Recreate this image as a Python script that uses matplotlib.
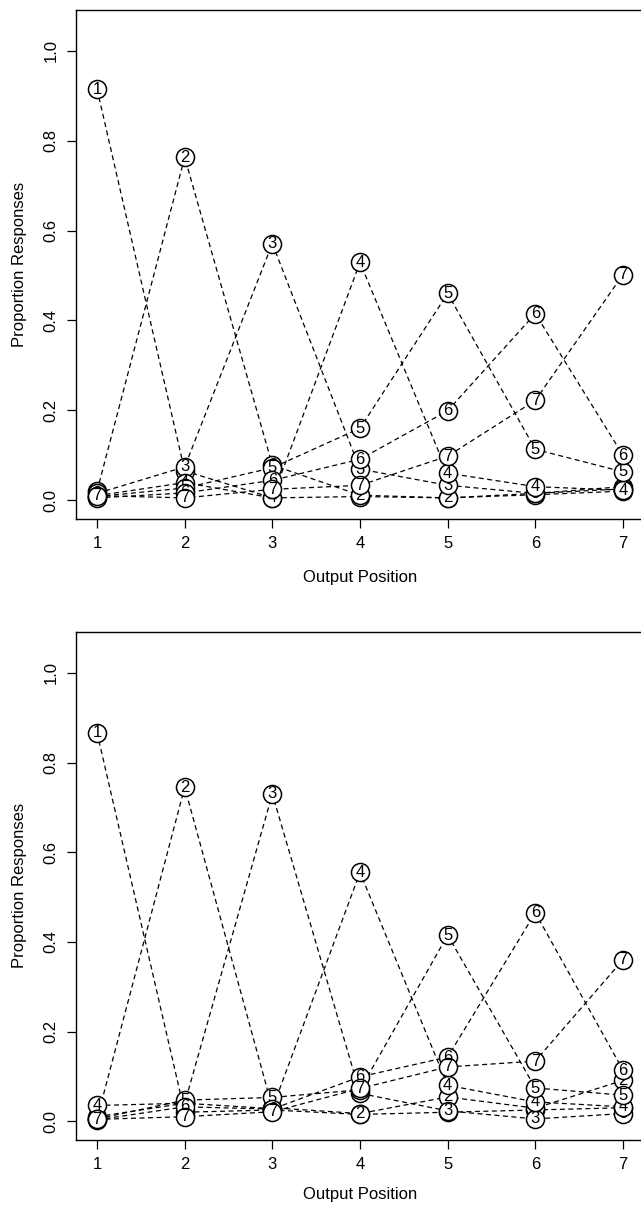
import numpy as np
import matplotlib
matplotlib.use('Agg')
import matplotlib.pyplot as plt

plt.rcParams['font.family'] = ['Liberation Sans', 'DejaVu Sans']

# output positions and serial positions
output_pos = [1, 2, 3, 4, 5, 6, 7]
serial_labels = ['1', '2', '3', '4', '5', '6', '7']

# top panel: proportion of responses for each serial position (rows) at each output position
top_s1 = [0.915, 0.065, 0.005, 0.008, 0.005, 0.012, 0.020]
top_s2 = [0.020, 0.763, 0.078, 0.011, 0.005, 0.015, 0.030]
top_s3 = [0.015, 0.074, 0.571, 0.069, 0.033, 0.015, 0.025]
top_s4 = [0.010, 0.039, 0.005, 0.529, 0.060, 0.030, 0.022]
top_s5 = [0.008, 0.027, 0.072, 0.160, 0.460, 0.113, 0.063]
top_s6 = [0.005, 0.016, 0.044, 0.091, 0.199, 0.415, 0.100]
top_s7 = [0.010, 0.005, 0.024, 0.033, 0.098, 0.222, 0.502]

# bottom panel
bot_s1 = [0.867, 0.020, 0.025, 0.015, 0.020, 0.025, 0.030]
bot_s2 = [0.005, 0.745, 0.030, 0.017, 0.054, 0.029, 0.091]
bot_s3 = [0.010, 0.040, 0.730, 0.062, 0.023, 0.005, 0.017]
bot_s4 = [0.035, 0.040, 0.028, 0.555, 0.080, 0.043, 0.032]
bot_s5 = [0.005, 0.047, 0.053, 0.070, 0.415, 0.074, 0.058]
bot_s6 = [0.003, 0.032, 0.027, 0.099, 0.143, 0.465, 0.114]
bot_s7 = [0.004, 0.010, 0.021, 0.073, 0.121, 0.134, 0.360]

top_series = [top_s1, top_s2, top_s3, top_s4, top_s5, top_s6, top_s7]
bot_series = [bot_s1, bot_s2, bot_s3, bot_s4, bot_s5, bot_s6, bot_s7]

yticks = [0.0, 0.2, 0.4, 0.6, 0.8, 1.0]

W, H = 641, 1211
fig = plt.figure(figsize=(W / 100, H / 100), dpi=100)


def panel(rect, series, xlab_y):
    ax = fig.add_axes(rect)
    # dashed lines first
    for vals in series:
        ax.plot(output_pos, vals, color='black', lw=0.9,
                linestyle=(0, (4, 2.8)), zorder=2)
    # circles with numbers, later series on top
    for k, vals in enumerate(series):
        ax.plot(output_pos, vals, linestyle='none', marker='o', ms=13,
                mfc='white', mec='black', mew=1.1, zorder=3 + 2 * k)
        for x, y in zip(output_pos, vals):
            ax.text(x, y, serial_labels[k], ha='center', va='center',
                    fontsize=12, zorder=4 + 2 * k)
    ax.set_xlim(0.76, 7.24)
    ax.set_ylim(-0.042, 1.092)
    ax.set_xticks(output_pos)
    ax.set_yticks(yticks)
    ax.set_yticklabels(['%.1f' % t for t in yticks], rotation=90, va='center')
    ax.tick_params(axis='both', direction='out', length=6.5, width=0.9,
                   labelsize=12, pad=6)
    for sp in ax.spines.values():
        sp.set_linewidth(1.0)
    ax.set_xlabel('Output Position', fontsize=12, va='center')
    ax.set_ylabel('Proportion Responses', fontsize=12, va='center')
    ax.xaxis.set_label_coords(0.5 * (97 + 623) / 568 - 76 / 568, xlab_y)
    ax.yaxis.set_label_coords(-0.099, 0.5)
    return ax


ax1 = panel([76 / W, (H - 519) / H, 568 / W, 509.5 / H], top_series, -0.114)
ax2 = panel([76 / W, (H - 1140) / H, 568 / W, 508.3 / H], bot_series, -0.108)

fig.savefig('out.png', dpi=100)
